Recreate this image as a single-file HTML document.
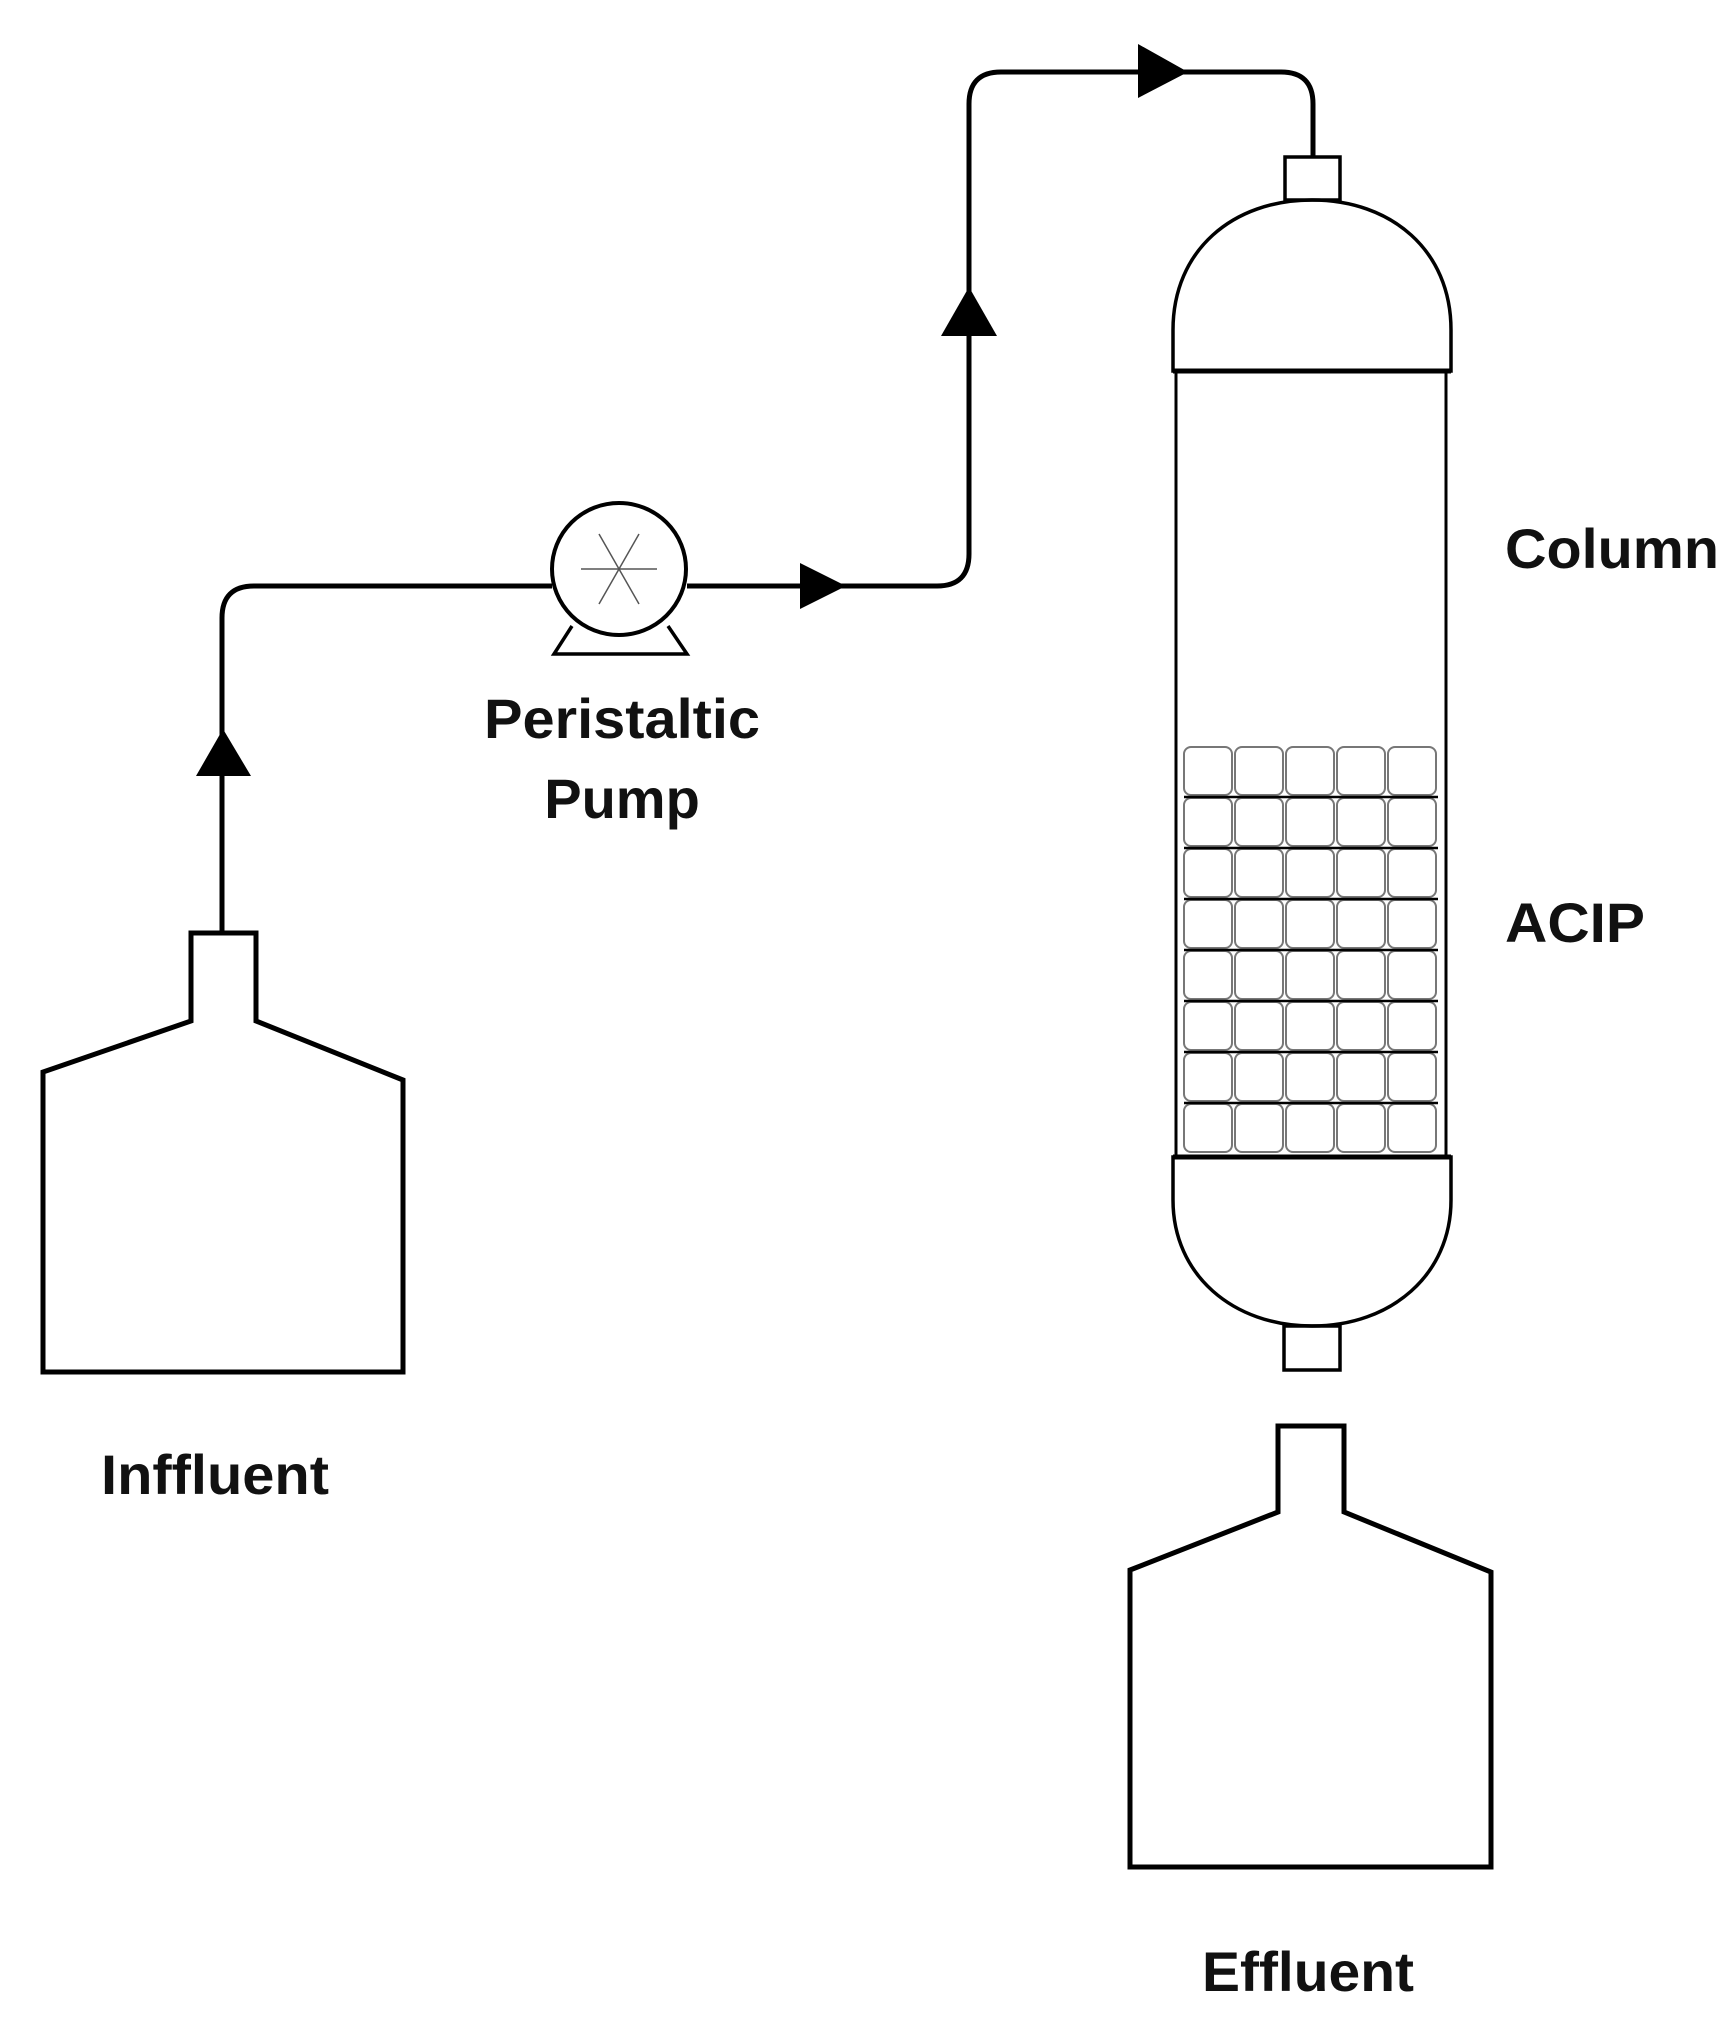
<!DOCTYPE html>
<html><head><style>html,body{margin:0;padding:0;background:#fff}svg{display:block}</style></head>
<body>
<svg width="1731" height="2020" viewBox="0 0 1731 2020" xmlns="http://www.w3.org/2000/svg">
<g fill="none" stroke="#000" stroke-width="5" stroke-linejoin="miter">
<!-- Influent bottle -->
<path d="M191,933 H256 V1021 L403,1080 V1372 H43 V1072 L191,1021 Z"/>
<!-- piping -->
<path d="M222,933 V618 Q222,586 254,586 H552"/>
<path d="M687,586 H937 Q969,586 969,554 V104 Q969,72 1001,72 H1281 Q1313,72 1313,104 V157"/>
<!-- pump -->
<ellipse cx="619" cy="569" rx="67" ry="66" stroke-width="4"/>
<path d="M572,626 L554,654 H687 L668,626" stroke-width="3.5"/>
</g>
<g stroke="#555" stroke-width="1.5">
<line x1="581" y1="569" x2="657" y2="569"/>
<line x1="599" y1="534" x2="639" y2="604"/>
<line x1="639" y1="534" x2="599" y2="604"/>
</g>
<!-- arrowheads -->
<g fill="#000">
<polygon points="223,729 196,776 251,776"/>
<polygon points="800,563 846,586 800,609"/>
<polygon points="969,287 941,336 997,336"/>
<polygon points="1138,44 1188,72 1138,98"/>
</g>
<g transform="translate(-7,0)">
<!-- column -->
<g fill="none" stroke="#000" stroke-width="3.5">
<rect x="1292" y="157" width="55" height="43"/>
<path d="M1180,371 V330 C1180,250 1240,200 1319,200 C1398,200 1458,250 1458,330 V371 Z"/>
<line x1="1183" y1="371" x2="1183" y2="1155" stroke-width="3"/>
<line x1="1453" y1="371" x2="1453" y2="1155" stroke-width="3"/>
<path d="M1180,1157 V1200 C1180,1275 1240,1326 1319,1326 C1398,1326 1458,1275 1458,1200 V1157 Z"/>
<rect x="1291" y="1326" width="56" height="44"/>
</g>
<line x1="1180" y1="371" x2="1458" y2="371" stroke="#000" stroke-width="5"/>
<line x1="1180" y1="1157" x2="1458" y2="1157" stroke="#000" stroke-width="5"/>
<!-- grid -->
<g fill="none" stroke="#777" stroke-width="2">
<rect x="1191" y="747" width="48" height="48" rx="7"/><rect x="1242" y="747" width="48" height="48" rx="7"/><rect x="1293" y="747" width="48" height="48" rx="7"/><rect x="1344" y="747" width="48" height="48" rx="7"/><rect x="1395" y="747" width="48" height="48" rx="7"/>
<rect x="1191" y="798" width="48" height="48" rx="7"/><rect x="1242" y="798" width="48" height="48" rx="7"/><rect x="1293" y="798" width="48" height="48" rx="7"/><rect x="1344" y="798" width="48" height="48" rx="7"/><rect x="1395" y="798" width="48" height="48" rx="7"/>
<rect x="1191" y="849" width="48" height="48" rx="7"/><rect x="1242" y="849" width="48" height="48" rx="7"/><rect x="1293" y="849" width="48" height="48" rx="7"/><rect x="1344" y="849" width="48" height="48" rx="7"/><rect x="1395" y="849" width="48" height="48" rx="7"/>
<rect x="1191" y="900" width="48" height="48" rx="7"/><rect x="1242" y="900" width="48" height="48" rx="7"/><rect x="1293" y="900" width="48" height="48" rx="7"/><rect x="1344" y="900" width="48" height="48" rx="7"/><rect x="1395" y="900" width="48" height="48" rx="7"/>
<rect x="1191" y="951" width="48" height="48" rx="7"/><rect x="1242" y="951" width="48" height="48" rx="7"/><rect x="1293" y="951" width="48" height="48" rx="7"/><rect x="1344" y="951" width="48" height="48" rx="7"/><rect x="1395" y="951" width="48" height="48" rx="7"/>
<rect x="1191" y="1002" width="48" height="48" rx="7"/><rect x="1242" y="1002" width="48" height="48" rx="7"/><rect x="1293" y="1002" width="48" height="48" rx="7"/><rect x="1344" y="1002" width="48" height="48" rx="7"/><rect x="1395" y="1002" width="48" height="48" rx="7"/>
<rect x="1191" y="1053" width="48" height="48" rx="7"/><rect x="1242" y="1053" width="48" height="48" rx="7"/><rect x="1293" y="1053" width="48" height="48" rx="7"/><rect x="1344" y="1053" width="48" height="48" rx="7"/><rect x="1395" y="1053" width="48" height="48" rx="7"/>
<rect x="1191" y="1104" width="48" height="48" rx="7"/><rect x="1242" y="1104" width="48" height="48" rx="7"/><rect x="1293" y="1104" width="48" height="48" rx="7"/><rect x="1344" y="1104" width="48" height="48" rx="7"/><rect x="1395" y="1104" width="48" height="48" rx="7"/>
</g>
<g stroke="#000" stroke-width="2.5">
<line x1="1191" y1="797" x2="1445" y2="797"/><line x1="1191" y1="848" x2="1445" y2="848"/><line x1="1191" y1="899" x2="1445" y2="899"/><line x1="1191" y1="950" x2="1445" y2="950"/><line x1="1191" y1="1001" x2="1445" y2="1001"/><line x1="1191" y1="1052" x2="1445" y2="1052"/><line x1="1191" y1="1103" x2="1445" y2="1103"/>
</g>
</g>
<!-- effluent bottle -->
<path d="M1278,1426 H1344 V1512 L1491,1572 V1867 H1130 V1570 L1278,1512 Z" fill="none" stroke="#000" stroke-width="5"/>
<!-- labels -->
<g font-family="Liberation Sans, Arial, sans-serif" font-weight="bold" font-size="56" fill="#111">
<text x="1505" y="568" textLength="214" lengthAdjust="spacingAndGlyphs">Column</text>
<text x="1505" y="942" textLength="140" lengthAdjust="spacingAndGlyphs">ACIP</text>
<text x="622" y="738" text-anchor="middle" textLength="276" lengthAdjust="spacingAndGlyphs">Peristaltic</text>
<text x="622" y="818" text-anchor="middle">Pump</text>
<text x="215" y="1494" text-anchor="middle" textLength="228" lengthAdjust="spacingAndGlyphs">Inffluent</text>
<text x="1308" y="1991" text-anchor="middle" textLength="212" lengthAdjust="spacingAndGlyphs">Effluent</text>
</g>
</svg>
</body></html>
